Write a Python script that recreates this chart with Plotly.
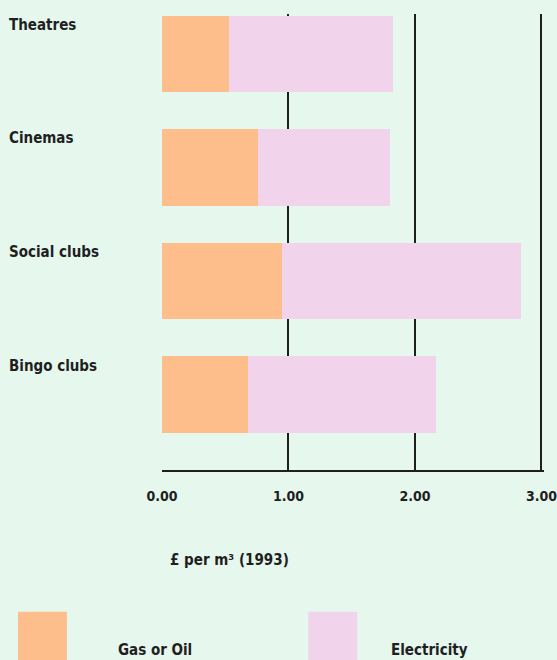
import plotly.graph_objects as go

# Energy cost per square metre, 1993
categories = ["Theatres", "Cinemas", "Social clubs", "Bingo clubs"]
gas_or_oil = [0.53, 0.76, 0.95, 0.68]
electricity = [1.30, 1.04, 1.89, 1.49]
tick_values = [0, 1, 2, 3]
tick_labels = ["0.00", "1.00", "2.00", "3.00"]

FONT = "DejaVu Sans Condensed, DejaVu Sans, sans-serif"
INK = "#1f1f1f"
BG = "#e6f7ee"
ORANGE = "#fdbe8c"
PINK = "#f1d3ec"
TEXT = dict(family=FONT, size=15, color=INK, weight="bold")
TICKS = dict(family=FONT, size=14, color=INK, weight="bold")

fig = go.Figure()
fig.add_trace(go.Bar(y=categories, x=gas_or_oil, orientation="h",
                     marker=dict(color=ORANGE, line=dict(width=0)),
                     name="Gas or Oil"))
fig.add_trace(go.Bar(y=categories, x=electricity, orientation="h",
                     marker=dict(color=PINK, line=dict(width=0)),
                     name="Electricity"))

# category labels sit above-left of each bar
for c in categories:
    fig.add_annotation(x=-0.406, xref="paper", y=c, yref="y", yshift=29,
                       text=c, showarrow=False, xanchor="left", yanchor="middle",
                       font=TEXT)

# axis caption
fig.add_annotation(x=0.016, xref="paper", y=-0.197, yref="paper",
                   text="£ per m³ (1993)", showarrow=False,
                   xanchor="left", yanchor="middle", font=TEXT)

# legend: large swatches with labels
legend_items = [("Gas or Oil", ORANGE, -0.377, -0.121),
                ("Electricity", PINK, 0.383, 0.594)]
for label, col, x0, xt in legend_items:
    fig.add_shape(type="rect", xref="paper", yref="paper",
                  x0=x0, x1=x0 + 0.128, y0=-0.311, y1=-0.43,
                  fillcolor=col, line=dict(width=0))
    fig.add_annotation(x=xt, xref="paper", y=-0.395, yref="paper",
                       text=label, showarrow=False, xanchor="left",
                       yanchor="middle", font=TEXT)

fig.update_layout(
    width=557, height=660,
    margin=dict(l=162, r=13, t=14, b=190, autoexpand=False),
    paper_bgcolor=BG, plot_bgcolor=BG,
    barmode="stack", bargap=0.33,
    showlegend=False,
    xaxis=dict(range=[0, 3.02], tickvals=tick_values, ticktext=tick_labels,
               showgrid=True, gridcolor=INK, gridwidth=2,
               zeroline=False, showline=True, linecolor=INK, linewidth=2,
               ticks="", ticklabelstandoff=12, ticklabeloverflow="allow",
               automargin=False, tickfont=TICKS, fixedrange=True),
    yaxis=dict(range=[3.665, -0.352], showticklabels=False, showgrid=False,
               zeroline=False, showline=False, ticks="", automargin=False,
               fixedrange=True),
)

fig.write_html("out.html")
